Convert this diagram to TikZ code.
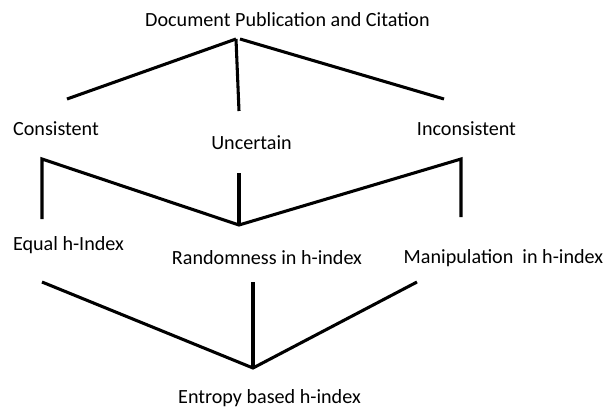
\documentclass[tikz,border=0pt]{standalone}
\usepackage{fontspec}
\setmainfont{Carlito}
\begin{document}
\begin{tikzpicture}[x=0.75pt,y=-0.75pt,
  lbl/.style={inner sep=0pt,font=\fontsize{15.1}{17}\selectfont},
  conn/.style={line width=2.3pt,line join=miter}]
\useasboundingbox (0,0) rectangle (608,408);
% labels
\node[lbl] (doc) at (287.5,20) {Document Publication and Citation};
\node[lbl] (cons) at (56,129) {Consistent};
\node[lbl] (unc) at (251.5,143) {Uncertain};
\node[lbl] (incons) at (466.5,129) {Inconsistent};
\node[lbl] (equal) at (68.5,245) {Equal h-Index};
\node[lbl] (rand) at (267,258) {Randomness in h-index};
\node[lbl] (manip) at (503.5,258) {Manipulation\ \ in h-index};
\node[lbl] (ent) at (269.5,398) {Entropy based h-index};
% junctions
\coordinate (apex) at (236,39);
\coordinate (apexR) at (240,39);
\coordinate (c1) at (67,99);
\coordinate (c2) at (239,111);
\coordinate (c3) at (444,99);
\coordinate (a) at (42,159);
\coordinate (a2) at (42,219);
\coordinate (m) at (239,225);
\coordinate (mt) at (239,173);
\coordinate (b) at (461,159);
\coordinate (b2) at (461,217);
\coordinate (l) at (42,282);
\coordinate (mt2) at (253,282);
\coordinate (r) at (417,282);
\coordinate (e) at (253,368);
% connectors
\draw[conn] (c1) -- (apex);
\draw[conn] (apex) -- (c2);
\draw[conn] (apexR) -- (c3);
\draw[conn] (a2) -- (a) -- (m) -- (b) -- (b2);
\draw[conn] (mt) -- (m);
\draw[conn] (l) -- (e) -- (r);
\draw[conn] (mt2) -- (e);
\end{tikzpicture}
\end{document}
